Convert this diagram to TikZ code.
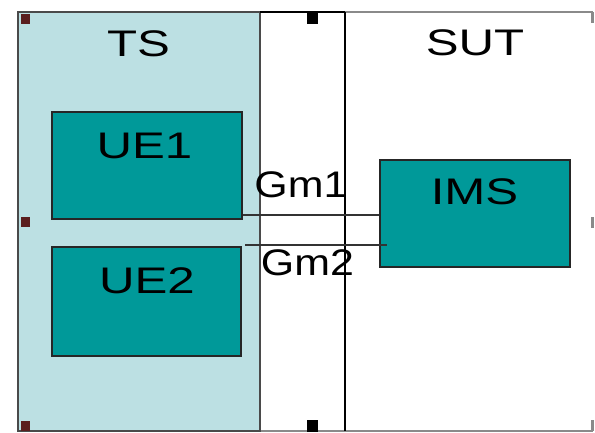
\documentclass[tikz,border=0pt]{standalone}
\usepackage{fontspec}
\setmainfont{Liberation Sans}
\definecolor{tsfill}{HTML}{BCE0E3}
\definecolor{boxteal}{HTML}{009999}
\definecolor{framegray}{HTML}{8A8A8A}
\definecolor{tsborder}{HTML}{4A4A4A}
\definecolor{handlebrown}{HTML}{5A1E1E}
\newcommand\widetext[1]{\scalebox{1.33}[1]{#1}}
\newcommand\linktext[1]{\scalebox{1.16}[1]{#1}}
\begin{document}
\begin{tikzpicture}[x=1pt,y=-1pt,
  lbl/.style={font=\fontsize{37}{40}\selectfont, inner sep=0pt, anchor=base},
  tealbox/.style={draw=black!85, line width=1.6pt, fill=boxteal, inner sep=0pt},
  link/.style={draw=black!80, line width=1.4pt},
  brownhandle/.style={fill=handlebrown},
  blackhandle/.style={fill=black},
  grayhandle/.style={fill=framegray}]
\useasboundingbox (0,0) rectangle (595,433);
% panels
\fill[tsfill] (17.5,12) rectangle (260,431);
\draw[framegray, line width=1.5pt] (17.5,12) -- (593,12);
\draw[framegray, line width=1.5pt] (17.5,431) -- (593,431);
\draw[tsborder, line width=2pt] (17.5,12) rectangle (260,431);
\draw[black, line width=1.4pt] (260,12) -- (345,12);
\draw[black, line width=1.4pt] (345,12) -- (345,431);
% handles
\fill[brownhandle] (21,14) rectangle (30,24);
\fill[brownhandle] (21,217) rectangle (30,227);
\fill[brownhandle] (21,421) rectangle (30,431);
\fill[blackhandle] (307,11) rectangle (318,24);
\fill[blackhandle] (307,420) rectangle (318,432);
\fill[grayhandle] (591,12) rectangle (594,23);
\fill[grayhandle] (591,217) rectangle (594,228);
\fill[grayhandle] (591,420) rectangle (594,431);
% panel titles
\node[lbl] (ts) at (138.5,56.5) {\widetext{TS}};
\node[lbl] (sut) at (475,56) {\widetext{SUT}};
% boxes
\node[tealbox, minimum width=190pt, minimum height=107pt] (ue1) at (147,165.5) {};
\node[tealbox, minimum width=189pt, minimum height=109pt] (ue2) at (146.5,301.5) {};
\node[tealbox, minimum width=190pt, minimum height=107pt] (ims) at (475,213.5) {};
\node[lbl] (ue1t) at (144.5,159) {\widetext{UE1}};
\node[lbl] (ue2t) at (147,293) {\widetext{UE2}};
\node[lbl] (imst) at (474.5,205) {\widetext{IMS}};
% connectors
\coordinate (g1) at (0,215);
\coordinate (g2a) at (245,245);
\coordinate (g2b) at (387,245);
\draw[link] (ue1.east |- g1) -- (ims.west |- g1);
\draw[link] (g2a) -- (g2b);
\node[lbl] (gm1) at (301,198) {\linktext{Gm1}};
\node[lbl] (gm2) at (307.5,275) {\linktext{Gm2}};
\end{tikzpicture}
\end{document}
